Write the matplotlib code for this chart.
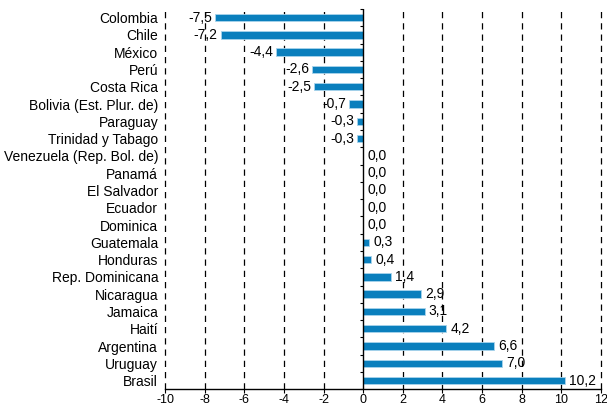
import matplotlib
matplotlib.use('Agg')
import matplotlib.pyplot as plt
import numpy as np

plt.rcParams.update({
    'font.family': ['Liberation Sans', 'DejaVu Sans'],
    'font.size': 10,
    'axes.unicode_minus': False,
})

# Data (top to bottom as in the chart)
countries = [
    'Colombia', 'Chile', 'México', 'Perú', 'Costa Rica',
    'Bolivia (Est. Plur. de)', 'Paraguay', 'Trinidad y Tabago',
    'Venezuela (Rep. Bol. de)', 'Panamá', 'El Salvador', 'Ecuador',
    'Dominica', 'Guatemala', 'Honduras', 'Rep. Dominicana', 'Nicaragua',
    'Jamaica', 'Haití', 'Argentina', 'Uruguay', 'Brasil',
]
values = [
    -7.5, -7.2, -4.4, -2.6, -2.5,
    -0.7, -0.3, -0.3,
    0.0, 0.0, 0.0, 0.0,
    0.0, 0.3, 0.4, 1.4, 2.9,
    3.1, 4.2, 6.6, 7.0, 10.2,
]
x_ticks = list(range(-10, 13, 2))

BAR_COLOR = '#0a7fbd'
EDGE_COLOR = '#a9d4ec'

fig = plt.figure(figsize=(6.07, 4.08), dpi=100)
ax = fig.add_axes([0.272, 0.046, 0.718, 0.932])

y = np.arange(len(countries))
ax.barh(y, values, height=0.43, color=BAR_COLOR, edgecolor=EDGE_COLOR,
        linewidth=0.6, zorder=3)

ax.set_xlim(-10, 12)
ax.set_ylim(len(countries) - 0.5, -0.5)

# dashed vertical grid
for xv in x_ticks:
    if xv != 0:
        ax.axvline(xv, color='black', linestyle=(0, (5, 4)), linewidth=0.9,
                   zorder=1, clip_on=False)
ax.axvline(0, color='black', linewidth=1.0, zorder=4)

# value labels
for yi, v in zip(y, values):
    txt = f'{v:.1f}'.replace('.', ',')
    if v < 0:
        ax.annotate(txt, (v, yi), xytext=(-2, 0), textcoords='offset points',
                    ha='right', va='center', zorder=5)
    else:
        ax.annotate(txt, (v, yi), xytext=(3, 0), textcoords='offset points',
                    ha='left', va='center', zorder=5)

# category labels at the left
ax.set_yticks(y)
ax.set_yticklabels(countries)
ax.tick_params(axis='y', length=0, pad=5)

ax.set_xticks(x_ticks)
ax.tick_params(axis='x', length=3, width=0.8, direction='out', pad=0.5,
               labelsize=9)

for side in ['left', 'right', 'top']:
    ax.spines[side].set_visible(False)
ax.spines['bottom'].set_linewidth(1.0)

# small ticks on the zero axis between categories
sec = ax.secondary_yaxis(10 / 22)
sec.spines['left'].set_visible(False)
sec.set_yticks(np.arange(-0.5, len(countries), 1.0))
sec.set_yticklabels([])
sec.tick_params(axis='y', length=2, width=0.8, direction='out')

fig.savefig('out.png', dpi=100)
